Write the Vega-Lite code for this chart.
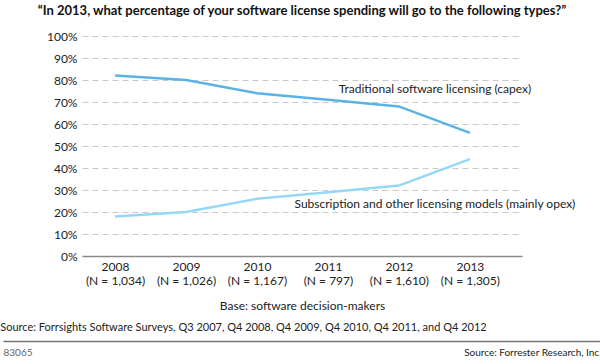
{
  "$schema": "https://vega.github.io/schema/vega-lite/v6.json",
  "padding": {"left": 0, "right": 0, "top": 5, "bottom": 0},
  "autosize": {"type": "pad"},
  "title": {
    "text": "“In 2013, what percentage of your software license spending will go to the following types?”",
    "fontSize": 13,
    "fontWeight": "bold",
    "color": "#111111",
    "anchor": "middle",
    "offset": 12
  },
  "datasets": {
    "lines": [
      {"year": "2008", "series": "Traditional software licensing (capex)", "value": 82},
      {"year": "2009", "series": "Traditional software licensing (capex)", "value": 80},
      {"year": "2010", "series": "Traditional software licensing (capex)", "value": 74},
      {"year": "2011", "series": "Traditional software licensing (capex)", "value": 71},
      {"year": "2012", "series": "Traditional software licensing (capex)", "value": 68},
      {"year": "2013", "series": "Traditional software licensing (capex)", "value": 56},
      {"year": "2008", "series": "Subscription and other licensing models (mainly opex)", "value": 18},
      {"year": "2009", "series": "Subscription and other licensing models (mainly opex)", "value": 20},
      {"year": "2010", "series": "Subscription and other licensing models (mainly opex)", "value": 26},
      {"year": "2011", "series": "Subscription and other licensing models (mainly opex)", "value": 29},
      {"year": "2012", "series": "Subscription and other licensing models (mainly opex)", "value": 32},
      {"year": "2013", "series": "Subscription and other licensing models (mainly opex)", "value": 44}
    ],
    "notes": [
      {"year": "2012", "value": 76, "text": "Traditional software licensing (capex)"},
      {"year": "2012", "value": 23.5, "text": "Subscription and other licensing models (mainly opex)"}
    ],
    "footer": [
      {"note": "83065"},
      {"note": "Source: Forrester Research, Inc."}
    ]
  },
  "spacing": 84,
  "bounds": "flush",
  "center": true,
  "vconcat": [
    {
      "width": 440,
      "height": 220,
      "encoding": {
        "x": {
          "field": "year",
          "type": "ordinal",
          "scale": {"type": "point", "padding": 0.6, "align": 0.388},
          "axis": {
            "title": "Base: software decision-makers",
            "titleFontSize": 12,
            "titleFontWeight": "normal",
            "titleColor": "#222222",
            "titlePadding": 14,
            "labelAngle": 0,
            "labelFontSize": 12,
            "labelColor": "#222222",
            "labelLineHeight": 14,
            "labelPadding": 5,
            "ticks": false,
            "domainColor": "#8a8a8a",
            "domainWidth": 1.5,
            "zindex": 1,
            "labelExpr": "[datum.value, {'2008':'(N = 1,034)','2009':'(N = 1,026)','2010':'(N = 1,167)','2011':'(N = 797)','2012':'(N = 1,610)','2013':'(N = 1,305)'}[datum.value]]"
          }
        },
        "y": {
          "field": "value",
          "type": "quantitative",
          "scale": {"domain": [0, 100]},
          "axis": {
            "title": null,
            "values": [0, 10, 20, 30, 40, 50, 60, 70, 80, 90, 100],
            "tickCount": 11,
            "labelOverlap": false,
            "labelExpr": "datum.value + '%'",
            "labelFontSize": 12,
            "labelColor": "#222222",
            "labelPadding": 5,
            "domain": false,
            "ticks": false,
            "grid": true,
            "gridDash": [6, 4],
            "gridColor": "#c8c8c8",
            "gridWidth": 1
          }
        }
      },
      "layer": [
        {
          "data": {"name": "lines"},
          "mark": {"type": "line", "strokeWidth": 2.5},
          "encoding": {
            "color": {
              "field": "series",
              "type": "nominal",
              "scale": {
                "domain": ["Traditional software licensing (capex)", "Subscription and other licensing models (mainly opex)"],
                "range": ["#5ab4e3", "#94d8f6"]
              },
              "legend": null
            }
          }
        },
        {
          "data": {"name": "notes"},
          "mark": {"type": "text", "dx": 36, "fontSize": 12, "color": "#222222", "align": "center", "baseline": "middle"},
          "encoding": {
            "text": {"field": "text"}
          }
        }
      ]
    },
    {
      "width": 598,
      "height": 1,
      "data": {"name": "footer"},
      "title": {
        "text": "Source: Forrsights Software Surveys, Q3 2007, Q4 2008, Q4 2009, Q4 2010, Q4 2011, and Q4 2012",
        "anchor": "start",
        "fontSize": 11,
        "fontWeight": "normal",
        "color": "#222222",
        "offset": 5
      },
      "mark": {"type": "point", "opacity": 0},
      "encoding": {
        "x": {
          "field": "note",
          "type": "nominal",
          "sort": null,
          "scale": {"type": "point", "padding": 0},
          "axis": {
            "orient": "bottom",
            "title": null,
            "ticks": false,
            "domainColor": "#777777",
            "domainWidth": 1.5,
            "labelPadding": 6,
            "labelAngle": 0,
            "labelFontSize": 10,
            "labelAlign": {"condition": {"test": "datum.value === '83065'", "value": "left"}, "value": "right"},
            "labelColor": {"condition": {"test": "datum.value === '83065'", "value": "#666666"}, "value": "#222222"}
          }
        }
      }
    }
  ],
  "config": {
    "font": "Lato",
    "view": {"stroke": null}
  }
}
